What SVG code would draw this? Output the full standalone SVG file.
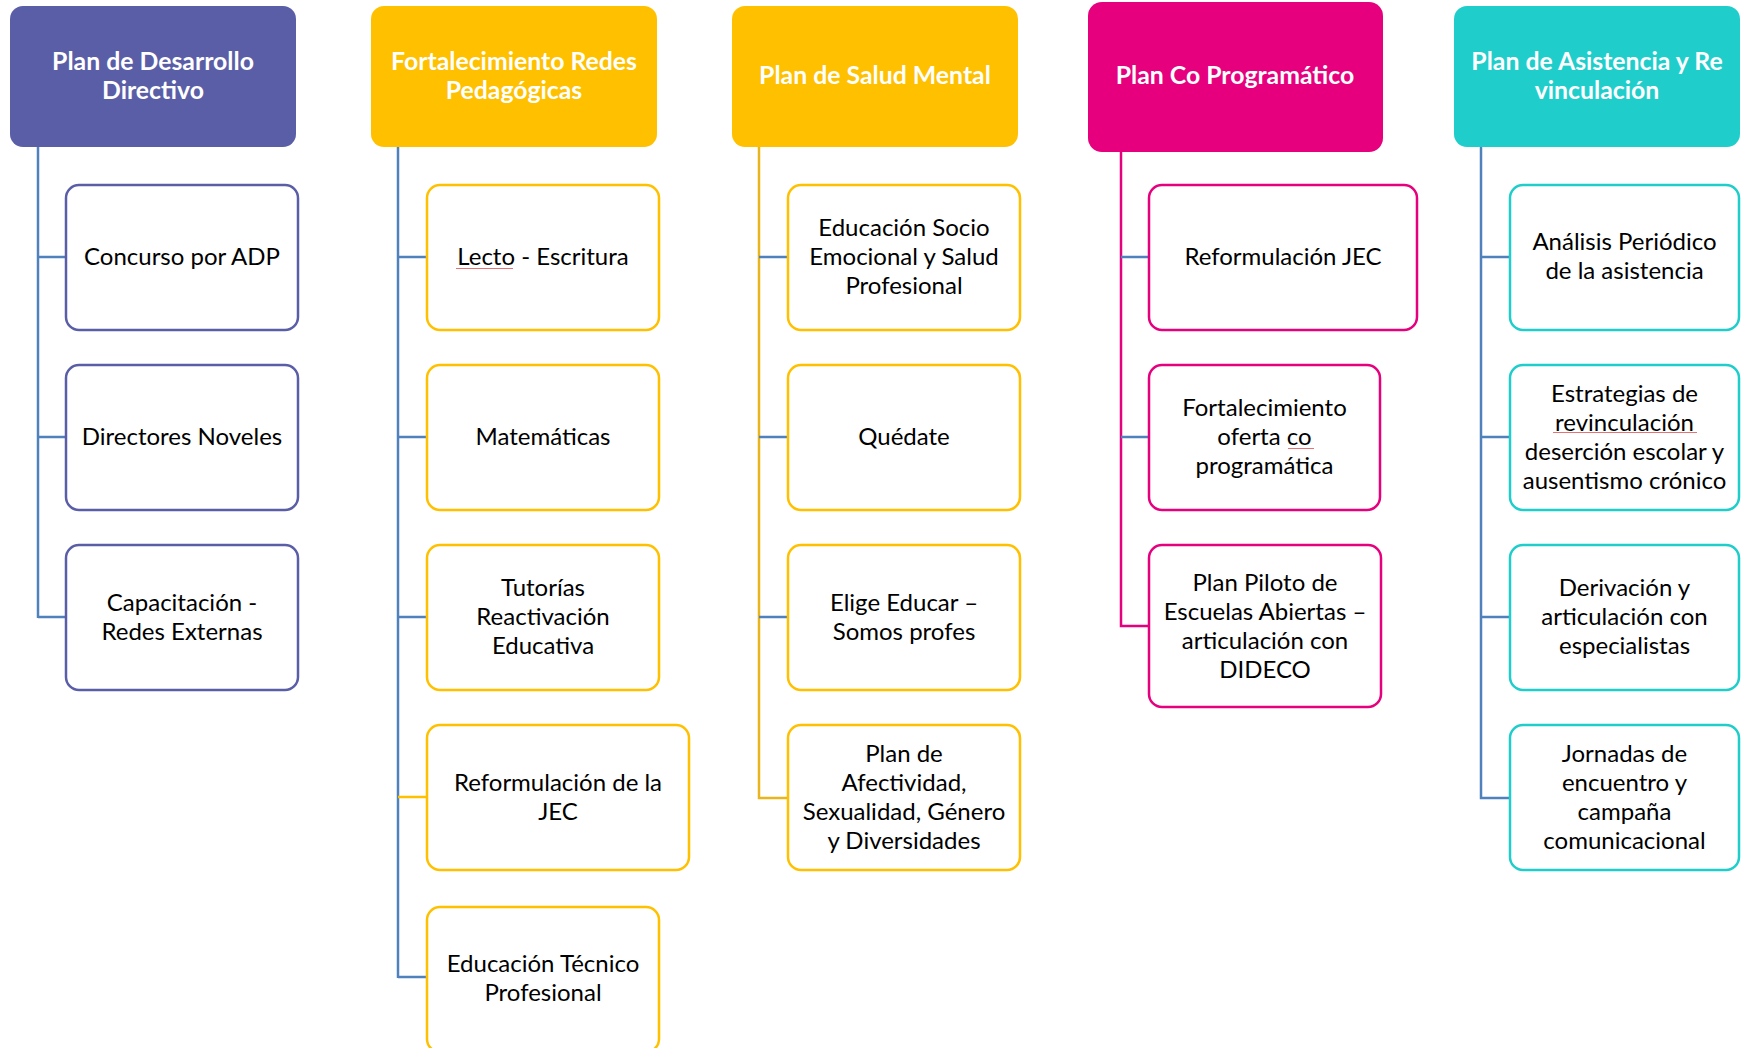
<svg xmlns="http://www.w3.org/2000/svg" width="1741" height="1048" viewBox="0 0 1741 1048">
<style>
.h{font-family:Lato,"Liberation Sans",sans-serif;font-weight:bold;font-size:24.8px;fill:#fff;text-anchor:middle}
.t{font-family:Lato,"Liberation Sans",sans-serif;font-size:24px;fill:#000;text-anchor:middle}
.c{fill:#fff;stroke-width:2.5}
.l{fill:none;stroke-width:2.5}
.blue{stroke:#4F81BD}
.pur{stroke:#5A5EA7}
.gold{stroke:#FFC000}
.dgold{stroke:#E9B51C}
.mag{stroke:#E6007E}
.teal{stroke:#1FCECB}
.sp{stroke:#E57373;stroke-width:1;fill:none}
</style>
<rect width="1741" height="1048" fill="#fff"/>
<g id="connectors">
<path class="l blue" d="M38 147V618M38 257H66M38 437H66M38 617H66"/>
<path class="l blue" d="M398 147V978M398 257H427M398 437H427M398 617H427M398 977H427"/>
<path class="l gold" d="M398 797H427"/>
<path class="l dgold" d="M759 147V798H788"/>
<path class="l blue" d="M759 257H788M759 437H788M759 617H788"/>
<path class="l mag" d="M1121 152V626H1149"/>
<path class="l blue" d="M1121 257H1149M1121 437H1149"/>
<path class="l blue" d="M1481 147V798H1510M1481 257H1510M1481 437H1510M1481 617H1510"/>
</g>
<g id="h1"><rect x="10" y="6" width="286" height="141" rx="13" fill="#5A5EA7"/><text class="h" x="153" y="70">Plan de Desarrollo</text><text class="h" x="153" y="99">Directivo</text></g>
<g id="h2"><rect x="371" y="6" width="286" height="141" rx="13" fill="#FFC000"/><text class="h" x="514" y="70">Fortalecimiento Redes</text><text class="h" x="514" y="99">Pedagógicas</text></g>
<g id="h3"><rect x="732" y="6" width="286" height="141" rx="13" fill="#FFC000"/><text class="h" x="875" y="84">Plan de Salud Mental</text></g>
<g id="h4"><rect x="1088" y="2" width="295" height="150" rx="14" fill="#E6007E"/><text class="h" x="1235" y="84">Plan Co Programático</text></g>
<g id="h5"><rect x="1454" y="6" width="286" height="141" rx="13" fill="#1FCECB"/><text class="h" x="1597" y="70">Plan de Asistencia y Re</text><text class="h" x="1597" y="99">vinculación</text></g>

<g id="c1a"><rect class="c pur" x="66" y="185" width="232" height="145" rx="13"/><text class="t" x="182" y="265">Concurso por ADP</text></g>
<g id="c1b"><rect class="c pur" x="66" y="365" width="232" height="145" rx="13"/><text class="t" x="182" y="445">Directores Noveles</text></g>
<g id="c1c"><rect class="c pur" x="66" y="545" width="232" height="145" rx="13"/><text class="t" x="182" y="611">Capacitación  -</text><text class="t" x="182" y="640">Redes Externas</text></g>

<g id="c2a"><rect class="c gold" x="427" y="185" width="232" height="145" rx="13"/><text class="t" x="543" y="265">Lecto - Escritura</text><path class="sp" d="M456 268.5h57"/></g>
<g id="c2b"><rect class="c gold" x="427" y="365" width="232" height="145" rx="13"/><text class="t" x="543" y="445">Matemáticas</text></g>
<g id="c2c"><rect class="c gold" x="427" y="545" width="232" height="145" rx="13"/><text class="t" x="543" y="596">Tutorías</text><text class="t" x="543" y="625">Reactivación</text><text class="t" x="543" y="654">Educativa</text></g>
<g id="c2d"><rect class="c gold" x="427" y="725" width="262" height="145" rx="13"/><text class="t" x="558" y="791">Reformulación de la</text><text class="t" x="558" y="820">JEC</text></g>
<g id="c2e"><rect class="c gold" x="427" y="907" width="232" height="145" rx="13"/><text class="t" x="543" y="972">Educación Técnico</text><text class="t" x="543" y="1001">Profesional</text></g>

<g id="c3a"><rect class="c gold" x="788" y="185" width="232" height="145" rx="13"/><text class="t" x="904" y="236">Educación Socio</text><text class="t" x="904" y="265">Emocional y Salud</text><text class="t" x="904" y="294">Profesional</text></g>
<g id="c3b"><rect class="c gold" x="788" y="365" width="232" height="145" rx="13"/><text class="t" x="904" y="445">Quédate</text></g>
<g id="c3c"><rect class="c gold" x="788" y="545" width="232" height="145" rx="13"/><text class="t" x="904" y="611">Elige Educar –</text><text class="t" x="904" y="640">Somos profes</text></g>
<g id="c3d"><rect class="c gold" x="788" y="725" width="232" height="145" rx="13"/><text class="t" x="904" y="762">Plan de</text><text class="t" x="904" y="791">Afectividad,</text><text class="t" x="904" y="820">Sexualidad, Género</text><text class="t" x="904" y="849">y Diversidades</text></g>

<g id="c4a"><rect class="c mag" x="1149" y="185" width="268" height="145" rx="13"/><text class="t" x="1283" y="265">Reformulación JEC</text></g>
<g id="c4b"><rect class="c mag" x="1149" y="365" width="231" height="145" rx="13"/><text class="t" x="1264.5" y="416">Fortalecimiento</text><text class="t" x="1264.5" y="445">oferta co</text><text class="t" x="1264.5" y="474">programática</text><path class="sp" d="M1288 448.5h26"/></g>
<g id="c4c"><rect class="c mag" x="1149" y="545" width="232" height="162" rx="13"/><text class="t" x="1265" y="591">Plan Piloto de</text><text class="t" x="1265" y="620">Escuelas Abiertas –</text><text class="t" x="1265" y="649">articulación con</text><text class="t" x="1265" y="678">DIDECO</text></g>

<g id="c5a"><rect class="c teal" x="1510" y="185" width="229" height="145" rx="13"/><text class="t" x="1624.5" y="250">Análisis Periódico</text><text class="t" x="1624.5" y="279">de la asistencia</text></g>
<g id="c5b"><rect class="c teal" x="1510" y="365" width="229" height="145" rx="13"/><text class="t" x="1624.5" y="402">Estrategias de</text><text class="t" x="1624.5" y="431">revinculación</text><text class="t" x="1624.5" y="460">deserción escolar y</text><text class="t" x="1624.5" y="489">ausentismo crónico</text><path class="sp" d="M1553 432.5h144"/></g>
<g id="c5c"><rect class="c teal" x="1510" y="545" width="229" height="145" rx="13"/><text class="t" x="1624.5" y="596">Derivación y</text><text class="t" x="1624.5" y="625">articulación con</text><text class="t" x="1624.5" y="654">especialistas</text></g>
<g id="c5d"><rect class="c teal" x="1510" y="725" width="229" height="145" rx="13"/><text class="t" x="1624.5" y="762">Jornadas de</text><text class="t" x="1624.5" y="791">encuentro y</text><text class="t" x="1624.5" y="820">campaña</text><text class="t" x="1624.5" y="849">comunicacional</text></g>
</svg>
